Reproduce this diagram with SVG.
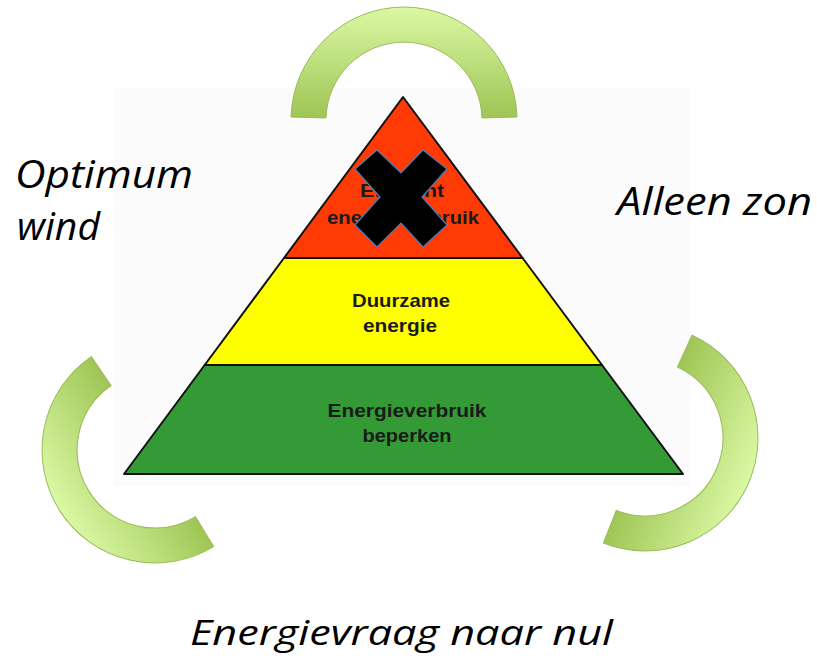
<svg xmlns="http://www.w3.org/2000/svg" width="817" height="661" viewBox="0 0 817 661">
  <style>
    .layer { stroke: #111; stroke-width: 2; stroke-linejoin: round; }
    .ptxt { font-family: "Liberation Sans", Arial, sans-serif; font-weight: bold; font-size: 18.5px; fill: #1a1a1a; text-anchor: middle; }
    .side { font-family: "Open Sans", "Liberation Sans", sans-serif; font-style: italic; fill: #000; }
    .arc { fill: url(#arcGrad); stroke: #9bbb59; stroke-width: 1; }
  </style>
  <defs>
    <linearGradient id="arcGrad" gradientUnits="userSpaceOnUse" x1="0" y1="-113" x2="0" y2="0">
      <stop offset="0" stop-color="#dbf8a4"/>
      <stop offset="1" stop-color="#9dc453"/>
    </linearGradient>
    <path id="arcShape" d="M -112.96 -2.96 A 113 113 0 0 1 112.96 -2.96 L 77.97 -2.04 A 78 78 0 0 0 -77.97 -2.04 Z"/>
  </defs>

  <rect x="0" y="0" width="817" height="661" fill="#ffffff"/>
  <rect id="pyramid-bg" x="114" y="88" width="576" height="398" fill="#fbfbfb"/>

  <g id="layer-top">
    <polygon class="layer" fill="#ff3a05" points="403,97 522.6,258 284,258"/>
    <text class="ptxt" x="402" y="197" textLength="84" lengthAdjust="spacingAndGlyphs">Efficiënt</text>
    <text class="ptxt" x="403" y="224" textLength="152" lengthAdjust="spacingAndGlyphs">energieverbruik</text>
  </g>
  <g id="layer-middle">
    <polygon class="layer" fill="#ffff00" points="284,258 522.6,258 602,365 204.7,365"/>
    <text class="ptxt" x="401" y="307" textLength="98" lengthAdjust="spacingAndGlyphs">Duurzame</text>
    <text class="ptxt" x="400" y="332" textLength="74" lengthAdjust="spacingAndGlyphs">energie</text>
  </g>
  <g id="layer-bottom">
    <polygon class="layer" fill="#349a36" points="204.7,365 602,365 683,474 124,474"/>
    <text class="ptxt" x="407" y="417" textLength="159" lengthAdjust="spacingAndGlyphs">Energieverbruik</text>
    <text class="ptxt" x="407" y="442" textLength="89" lengthAdjust="spacingAndGlyphs">beperken</text>
  </g>

  <g id="connectors">
    <use class="arc" href="#arcShape" transform="translate(404,120)"/>
    <use class="arc" href="#arcShape" transform="translate(155,450) rotate(-122.75)"/>
    <use class="arc" href="#arcShape" transform="translate(645,438) rotate(113.1)"/>
  </g>

  <g id="cross">
    <polygon fill="#000000" stroke="#4a7ebb" stroke-width="1.2" stroke-linejoin="miter"
      points="355,169 377,150 401,173 423,150 447,169 422,197 447,225 423,247 401,223 377,247 355,225 380,197"/>
  </g>

  <g id="label-wind">
    <text class="side" x="15" y="188" font-size="38" textLength="178" lengthAdjust="spacingAndGlyphs">Optimum</text>
    <text class="side" x="17" y="240" font-size="38" textLength="83" lengthAdjust="spacingAndGlyphs">wind</text>
  </g>
  <g id="label-zon">
    <text class="side" x="617" y="215" font-size="38" textLength="195" lengthAdjust="spacingAndGlyphs">Alleen zon</text>
  </g>
  <g id="label-nul">
    <text class="side" x="190" y="645" font-size="34" textLength="423" lengthAdjust="spacingAndGlyphs">Energievraag naar nul</text>
  </g>
</svg>
